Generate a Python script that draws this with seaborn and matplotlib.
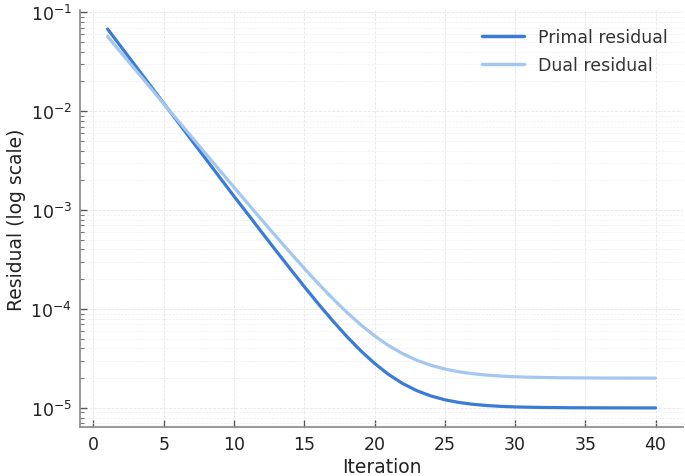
import numpy as np
import pandas as pd
import seaborn as sns
import matplotlib.pyplot as plt

iterations = list(range(1, 41))
primal_residual = [
    0.06801, 0.04411, 0.02861, 0.01856, 0.01204, 0.007807, 0.005064, 0.003284,
    0.002130, 0.001382, 9.06e-4, 5.91e-4, 3.87e-4, 2.55e-4, 1.687e-4, 1.129e-4,
    7.68e-5, 5.33e-5, 3.81e-5, 2.82e-5, 2.18e-5, 1.766e-5, 1.497e-5, 1.322e-5,
    1.209e-5, 1.136e-5, 1.088e-5, 1.057e-5, 1.037e-5, 1.024e-5, 1.016e-5, 1.010e-5,
    1.007e-5, 1.004e-5, 1.003e-5, 1.002e-5, 1.001e-5, 1.001e-5, 1.000e-5, 1.000e-5,
]
dual_residual = [
    0.05702, 0.03856, 0.02608, 0.01764, 0.01193, 0.008073, 0.005465, 0.003701,
    0.002509, 0.001703, 0.001158, 7.89e-4, 5.40e-4, 3.72e-4, 2.578e-4, 1.808e-4,
    1.287e-4, 9.35e-5, 6.97e-5, 5.36e-5, 4.27e-5, 3.536e-5, 3.038e-5, 2.702e-5,
    2.475e-5, 2.321e-5, 2.217e-5, 2.147e-5, 2.099e-5, 2.067e-5, 2.045e-5, 2.031e-5,
    2.021e-5, 2.014e-5, 2.010e-5, 2.006e-5, 2.004e-5, 2.003e-5, 2.002e-5, 2.001e-5,
]
series_names = ["Primal residual", "Dual residual"]
series_colors = ["#3a7bd5", "#a3c7f0"]


def build_frame() -> pd.DataFrame:
    parts = []
    for name, values in zip(series_names, [primal_residual, dual_residual]):
        parts.append(pd.DataFrame({"Iteration": iterations, "Residual": values, "Series": name}))
    return pd.concat(parts, ignore_index=True)


def main():
    sns.set_style("white")
    plt.rcParams["font.family"] = ["DejaVu Sans"]

    df = build_frame()

    fig = plt.figure(figsize=(6.85, 4.77), dpi=100)
    ax = fig.add_axes([0.117, 0.103, 0.88, 0.874])

    sns.lineplot(data=df, x="Iteration", y="Residual", hue="Series",
                 palette=dict(zip(series_names, series_colors)), linewidth=2.3, ax=ax)
    ax.set_yscale("log")

    # grid: major + minor, dashed and faint
    ax.grid(True, which="major", linestyle="--", linewidth=0.6, color="#e6e6e6")
    ax.grid(True, which="minor", axis="y", linestyle="--", linewidth=0.5, color="#eeeeee")
    ax.set_axisbelow(True)

    for side in ["top", "right"]:
        ax.spines[side].set_visible(False)
    for side in ["left", "bottom"]:
        ax.spines[side].set_color("#888888")
        ax.spines[side].set_linewidth(1.2)

    ax.set_xticks([0, 5, 10, 15, 20, 25, 30, 35, 40])
    ax.tick_params(axis="both", which="major", direction="in", length=5, width=1,
                   bottom=True, left=True, color="#555555", labelsize=12.5,
                   labelcolor="#222222", pad=6)
    ax.tick_params(axis="y", which="minor", direction="in", length=3, width=0.8,
                   left=True, color="#777777")

    ax.set_xlabel("Iteration", fontsize=13.5, color="#222222", labelpad=3)
    ax.set_ylabel("Residual (log scale)", fontsize=13.5, color="#222222", labelpad=3)

    leg = ax.legend(loc="upper right", frameon=False, fontsize=12.5, handlelength=2.4,
                    labelspacing=0.6, bbox_to_anchor=(1.0, 0.995))
    for text in leg.get_texts():
        text.set_color("#333333")
    for line in leg.get_lines():
        line.set_linewidth(2.5)

    fig.savefig("out.png", dpi=100)


if __name__ == "__main__":
    main()
